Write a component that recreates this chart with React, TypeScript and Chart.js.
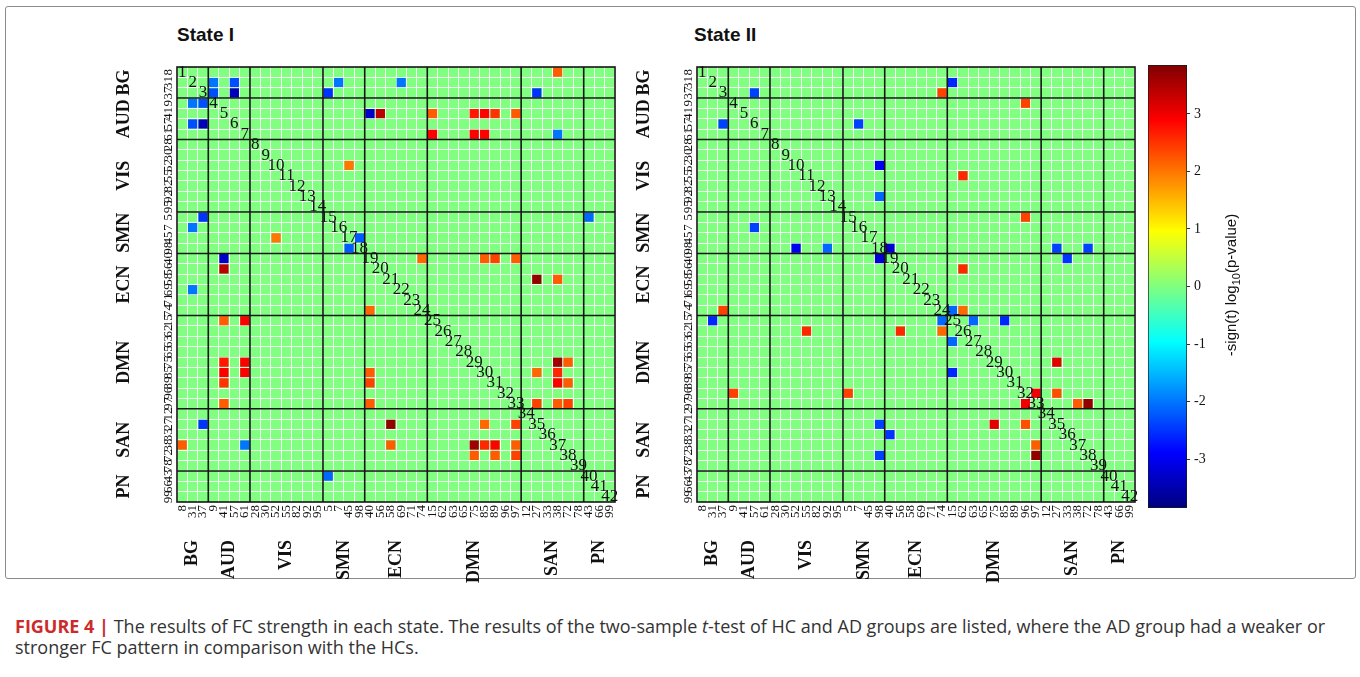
import React, { useEffect, useRef } from 'react';
import { Chart, registerables } from 'chart.js';
Chart.register(...registerables);

const groupNames = ['BG', 'AUD', 'VIS', 'SMN', 'ECN', 'DMN', 'SAN', 'PN'];
const groupSizes = [3, 4, 7, 4, 6, 9, 6, 3];
const nodeLabels = [
  '8', '31', '37',
  '9', '41', '57', '61',
  '28', '30', '52', '55', '82', '92', '95',
  '5', '7', '45', '98',
  '40', '56', '58', '69', '71', '74',
  '15', '62', '63', '65', '75', '85', '89', '96', '97',
  '12', '27', '33', '38', '72', '78',
  '43', '66', '99',
];
const colorMin = -3.85;
const colorMax = 3.85;
const colorTicks = [-3, -2, -1, 0, 1, 2, 3];

// significant cells, upper triangle [row, col, value] (1-based node order); matrix is symmetric
const stateICells: [number, number, number][] = [
  [1, 37, 2.2], [2, 4, -2.0], [2, 6, -2.3], [2, 16, -2.0], [2, 22, -2.0],
  [3, 4, -2.3], [3, 6, -3.4], [3, 15, -2.5], [3, 35, -2.5],
  [5, 19, -3.3], [5, 20, 3.4], [5, 25, 2.2], [5, 29, 2.7], [5, 30, 2.9], [5, 31, 2.5], [5, 33, 2.2],
  [7, 25, 2.9], [7, 29, 2.9], [7, 30, 2.9], [7, 37, -2.0],
  [10, 17, 2.0], [15, 40, -2.1], [17, 18, -2.2],
  [19, 24, 2.1], [19, 30, 2.2], [19, 31, 2.4], [19, 33, 2.2],
  [21, 35, 3.7], [21, 37, 2.2],
  [29, 37, 3.6], [29, 38, 2.2], [30, 35, 2.1], [30, 37, 2.6],
  [31, 37, 2.9], [31, 38, 2.2], [33, 35, 2.4], [33, 37, 2.2], [33, 38, 2.4],
];
const stateIICells: [number, number, number][] = [
  [2, 25, -2.6], [3, 6, -2.4], [3, 24, 2.4], [4, 32, 2.4], [6, 16, -2.4],
  [10, 18, -3.0], [11, 26, 2.6], [13, 18, -2.1], [15, 32, 2.4], [18, 19, -3.2],
  [18, 35, -2.4], [18, 38, -2.4], [19, 36, -2.5], [20, 26, 2.6],
  [24, 25, -2.1], [24, 26, 2.1], [25, 27, -2.1], [25, 30, -2.6],
  [29, 35, 3.1], [32, 33, 3.0], [32, 35, 2.3], [33, 37, 2.2], [33, 38, 3.7],
];

const SERIF = '"Liberation Serif", "DejaVu Serif", serif';
const SANS = '"Liberation Sans", Arial, sans-serif';

function jet(v: number): string {
  const t = Math.min(1, Math.max(0, (v - colorMin) / (colorMax - colorMin)));
  const c = (x: number) => Math.round(255 * Math.min(1, Math.max(0, x)));
  const r = c(1.5 - Math.abs(4 * t - 3));
  const g = c(1.5 - Math.abs(4 * t - 2));
  const b = c(1.5 - Math.abs(4 * t - 1));
  return `rgb(${r},${g},${b})`;
}

function MatrixChart({ cells, left, top }: { cells: [number, number, number][]; left: number; top: number }) {
  const ref = useRef<HTMLCanvasElement | null>(null);
  useEffect(() => {
    const pts: { x: number; y: number; v: number }[] = [];
    for (const [r, c, v] of cells) {
      pts.push({ x: c - 1, y: r - 1, v });
      if (r !== c) pts.push({ x: r - 1, y: c - 1, v });
    }
    const idx = nodeLabels.map((_, i) => i);
    let acc = 0;
    const bounds: number[] = [];
    const centers: number[] = [];
    groupSizes.forEach((s) => {
      centers.push(acc + s / 2 - 0.5);
      acc += s;
      bounds.push(acc - 0.5);
    });
    const cellPx = (ctx: any) => {
      const s = ctx.chart.scales.x;
      return Math.abs(s.getPixelForValue(1) - s.getPixelForValue(0));
    };
    const radius = (ctx: any) => Math.max(1, cellPx(ctx) - 1.2) / Math.SQRT2;
    const decor = {
      id: 'matrixDecor',
      beforeDraw(chart: any) {
        const { ctx, chartArea: a } = chart;
        ctx.save();
        ctx.fillStyle = jet(0);
        ctx.fillRect(a.left, a.top, a.width, a.height);
        ctx.restore();
      },
      afterDatasetsDraw(chart: any) {
        const { ctx, chartArea: a, scales } = chart;
        const x = scales.x;
        const y = scales.y;
        ctx.save();
        ctx.strokeStyle = '#151515';
        ctx.lineWidth = 1.6;
        bounds.slice(0, -1).forEach((b) => {
          const px = x.getPixelForValue(b);
          const py = y.getPixelForValue(b);
          ctx.beginPath();
          ctx.moveTo(px, a.top);
          ctx.lineTo(px, a.bottom);
          ctx.moveTo(a.left, py);
          ctx.lineTo(a.right, py);
          ctx.stroke();
        });
        ctx.strokeRect(a.left, a.top, a.width, a.height);
        ctx.fillStyle = '#111';
        ctx.font = `17px ${SERIF}`;
        ctx.textAlign = 'center';
        ctx.textBaseline = 'middle';
        idx.forEach((i) => ctx.fillText(String(i + 1), x.getPixelForValue(i), y.getPixelForValue(i)));
        ctx.restore();
      },
    };
    const common = {
      type: 'linear',
      min: -0.5,
      max: 41.5,
      bounds: 'data',
    };
    const chart = new Chart(ref.current as HTMLCanvasElement, {
      type: 'scatter',
      data: {
        datasets: [
          {
            data: pts as any,
            pointStyle: 'rect',
            pointRadius: radius as any,
            pointHoverRadius: radius as any,
            backgroundColor: ((ctx: any) => jet(ctx.raw ? ctx.raw.v : 0)) as any,
            borderWidth: 0,
          },
        ],
      },
      options: {
        animation: false,
        responsive: false,
        maintainAspectRatio: false,
        events: [],
        layout: { padding: { top: 12, right: 11, bottom: 6, left: 0 } },
        plugins: { legend: { display: false }, tooltip: { enabled: false } },
        scales: {
          x: {
            ...common,
            position: 'bottom',
            weight: 0,
            afterBuildTicks: (s: any) => { s.ticks = idx.map((v) => ({ value: v })); },
            afterFit: (s: any) => { s.height = 35; s.paddingLeft = 0; s.paddingRight = 0; },
            grid: { offset: true, color: 'rgba(255,255,255,0.9)', lineWidth: 1, drawTicks: false },
            border: { display: false },
            ticks: {
              autoSkip: false, minRotation: 90, maxRotation: 90, padding: 3, color: '#111',
              font: { family: SERIF, size: 13 },
              callback: (_v: any, i: number) => nodeLabels[i],
            },
          },
          xg: {
            ...common,
            axis: 'x',
            position: 'bottom',
            weight: 1,
            afterBuildTicks: (s: any) => { s.ticks = centers.map((v) => ({ value: v })); },
            afterFit: (s: any) => { s.height = 47; s.paddingLeft = 0; s.paddingRight = 0; },
            grid: { display: false, drawTicks: false },
            border: { display: false },
            ticks: {
              autoSkip: false, minRotation: 90, maxRotation: 90, padding: 3, color: '#111',
              font: { family: SERIF, size: 18, weight: 'bold' },
              callback: (_v: any, i: number) => groupNames[i],
            },
          },
          y: {
            ...common,
            reverse: true,
            position: 'left',
            weight: 0,
            afterBuildTicks: (s: any) => { s.ticks = idx.map((v) => ({ value: v })); },
            afterFit: (s: any) => { s.width = 22; s.paddingTop = 0; s.paddingBottom = 0; },
            grid: { offset: true, color: 'rgba(255,255,255,0.9)', lineWidth: 1, drawTicks: false },
            border: { display: false },
            ticks: {
              autoSkip: false, minRotation: 90, maxRotation: 90, padding: 2, crossAlign: 'center', color: '#111',
              font: { family: SERIF, size: 13 },
              callback: (_v: any, i: number) => nodeLabels[i],
            },
          },
          yg: {
            ...common,
            axis: 'y',
            reverse: true,
            position: 'left',
            weight: 1,
            afterBuildTicks: (s: any) => { s.ticks = centers.map((v) => ({ value: v })); },
            afterFit: (s: any) => { s.width = 65; s.paddingTop = 0; s.paddingBottom = 0; },
            grid: { display: false, drawTicks: false },
            border: { display: false },
            ticks: {
              autoSkip: false, minRotation: 90, maxRotation: 90, padding: 9, crossAlign: 'center', color: '#111',
              font: { family: SERIF, size: 18, weight: 'bold' },
              callback: (_v: any, i: number) => groupNames[i],
            },
          },
        } as any,
      },
      plugins: [decor],
    });
    return () => chart.destroy();
  }, []);
  return (
    <canvas
      ref={ref}
      width={536}
      height={535}
      style={{ position: 'absolute', left, top, width: 536, height: 535 }}
    />
  );
}

function ColorBar() {
  const ref = useRef<HTMLCanvasElement | null>(null);
  useEffect(() => {
    const chart = new Chart(ref.current as HTMLCanvasElement, {
      type: 'bar',
      data: {
        labels: [''],
        datasets: [
          {
            data: [[colorMin, colorMax]] as any,
            backgroundColor: ((ctx: any) => {
              const ch = ctx.chart;
              if (!ch.chartArea) return jet(0);
              const y = ch.scales.y;
              const g = ch.ctx.createLinearGradient(0, y.getPixelForValue(colorMin), 0, y.getPixelForValue(colorMax));
              for (let i = 0; i <= 40; i++) {
                const t = i / 40;
                g.addColorStop(t, jet(colorMin + t * (colorMax - colorMin)));
              }
              return g;
            }) as any,
            borderColor: '#1a1a1a',
            borderWidth: 1,
            borderSkipped: false,
            barPercentage: 1,
            categoryPercentage: 1,
          },
        ],
      },
      options: {
        animation: false,
        responsive: false,
        maintainAspectRatio: false,
        events: [],
        layout: { padding: { top: 10, right: 0, bottom: 12, left: 8 } },
        plugins: { legend: { display: false }, tooltip: { enabled: false } },
        scales: {
          x: { display: false },
          y: {
            type: 'linear',
            position: 'right',
            min: colorMin,
            max: colorMax,
            bounds: 'data',
            afterBuildTicks: (s: any) => { s.ticks = colorTicks.map((v) => ({ value: v })); },
            afterFit: (s: any) => { s.width = 33; s.paddingTop = 0; s.paddingBottom = 0; },
            grid: { drawOnChartArea: false, drawTicks: true, tickLength: 3, color: '#333' },
            border: { display: false },
            ticks: { color: '#111', padding: 4, font: { family: SERIF, size: 14 } },
          },
        } as any,
      },
    });
    return () => chart.destroy();
  }, []);
  return (
    <canvas
      ref={ref}
      width={80}
      height={465}
      style={{ position: 'absolute', left: 1140, top: 55, width: 80, height: 465 }}
    />
  );
}

export default function App() {
  return (
    <div
      style={{
        position: 'fixed', left: 0, top: 0, width: 1360, height: 677, background: '#fff',
        fontFamily: SANS, overflow: 'hidden',
      }}
    >
      <div
        style={{
          position: 'absolute', left: 5, top: 6, width: 1349, height: 571,
          border: '1px solid #8a8a8a', borderRadius: 3,
        }}
      />
      <div style={{ position: 'absolute', left: 177, top: 24, fontSize: 19, fontWeight: 'bold', color: '#111', fontFamily: SANS }}>
        State I
      </div>
      <div style={{ position: 'absolute', left: 694, top: 24, fontSize: 19, fontWeight: 'bold', color: '#111', fontFamily: SANS }}>
        State II
      </div>
      <MatrixChart cells={stateICells} left={90} top={55} />
      <MatrixChart cells={stateIICells} left={610} top={55} />
      <ColorBar />
      <div
        style={{
          position: 'absolute', left: 1232, top: 285, transform: 'translate(-50%, -50%) rotate(-90deg)',
          whiteSpace: 'nowrap', fontSize: 15, color: '#111', fontFamily: SANS,
        }}
      >
        -sign(t) log<sub style={{ fontSize: 11 }}>10</sub>(p-value)
      </div>
      <div
        style={{
          position: 'absolute', left: 15, top: 616, width: 1325, fontSize: 18, lineHeight: '21px',
          color: '#333', fontFamily: '"Open Sans", "Noto Sans", sans-serif',
        }}
      >
        <span style={{ color: '#cc2b2b', fontWeight: 'bold' }}>FIGURE 4 |</span> The results of FC strength in each
        state. The results of the two-sample <i>t</i>-test of HC and AD groups are listed, where the AD group had a
        weaker or stronger FC pattern in comparison with the HCs.
      </div>
    </div>
  );
}
